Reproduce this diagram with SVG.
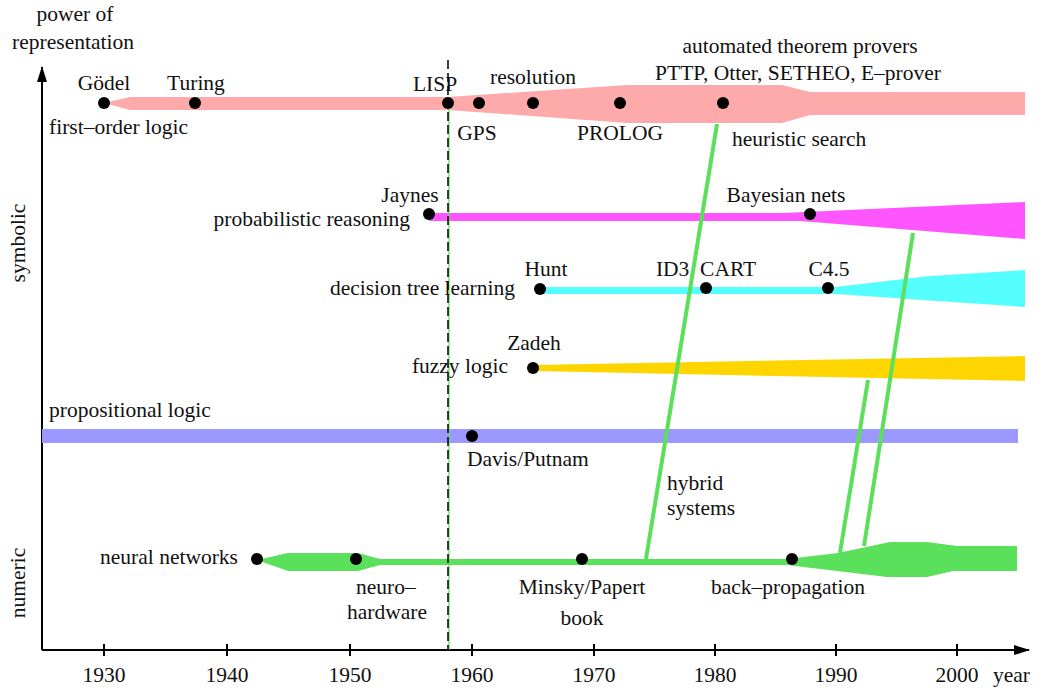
<svg xmlns="http://www.w3.org/2000/svg" width="1051" height="693" viewBox="0 0 1051 693" font-family="'Liberation Serif', 'DejaVu Serif', serif">
<style>
text{font-family:'Liberation Serif','DejaVu Serif',serif;font-size:21.5px;fill:#111}
.m{text-anchor:middle}.e{text-anchor:end}
.dot{fill:#000}
.hy{stroke:#5ae05a;stroke-width:4;fill:none}
.ax{stroke:#000;stroke-width:2;fill:none}
</style>
<defs>
<marker id="arr" markerWidth="16" markerHeight="10" refX="15" refY="5" orient="auto" markerUnits="userSpaceOnUse">
<path d="M0,0 L16,5 L0,10 Z" fill="#000"/>
</marker>
</defs>
<rect width="1051" height="693" fill="#fff"/>
<g id="axes">
<line class="ax" x1="42" y1="650" x2="42" y2="67" marker-end="url(#arr)"/>
<line class="ax" x1="42" y1="650" x2="1029" y2="650" marker-end="url(#arr)"/>
<g stroke="#000" stroke-width="2">
<line x1="104" y1="644" x2="104" y2="656"/><line x1="227" y1="644" x2="227" y2="656"/><line x1="350" y1="644" x2="350" y2="656"/><line x1="472" y1="644" x2="472" y2="656"/><line x1="594" y1="644" x2="594" y2="656"/><line x1="715" y1="644" x2="715" y2="656"/><line x1="836" y1="644" x2="836" y2="656"/><line x1="957" y1="644" x2="957" y2="656"/>
</g>
<text class="m" x="104" y="682">1930</text><text class="m" x="227" y="682">1940</text><text class="m" x="350" y="682">1950</text><text class="m" x="472" y="682">1960</text><text class="m" x="594" y="682">1970</text><text class="m" x="715" y="682">1980</text><text class="m" x="836" y="682">1990</text><text class="m" x="957" y="682">2000</text>
<text x="993" y="682">year</text>
<text class="m" x="75" y="21">power of</text>
<text class="m" x="73" y="49">representation</text>
<text class="m" transform="translate(25,243) rotate(-90)">symbolic</text>
<text class="m" transform="translate(25,583) rotate(-90)">numeric</text>
</g>
<g id="propositional-logic">
<rect x="42" y="429" width="976" height="14" fill="#9b99ff"/>
<circle class="dot" cx="472" cy="436" r="6"/>
<text x="49" y="417">propositional logic</text>
<text x="467" y="466">Davis/Putnam</text>
</g>
<g id="first-order-logic">
<polygon points="104,103 130,97 448,97 627,85 782,85 810,92 1025,92 1025,115 810,115 782,123 627,123 448,110 130,110" fill="#ffaaaa"/>
<text x="49" y="134">first–order logic</text>
<text class="m" x="104" y="90">Gödel</text>
<text class="m" x="196" y="90">Turing</text>
<text class="m" x="435" y="91">LISP</text>
<text class="m" x="477" y="140">GPS</text>
<text class="m" x="533" y="84">resolution</text>
<text class="m" x="620" y="140">PROLOG</text>
<text class="m" x="800" y="53">automated theorem provers</text>
<text class="m" x="798" y="80">PTTP, Otter, SETHEO, E–prover</text>
<text x="732" y="146">heuristic search</text>
</g>
<g id="probabilistic-reasoning">
<polygon points="429,213 783,213 1025,202 1025,239 800,221 429,221" fill="#ff55ff"/>
<text class="m" x="410" y="202">Jaynes</text>
<text class="e" x="410" y="226">probabilistic reasoning</text>
<text class="m" x="786" y="202">Bayesian nets</text>
</g>
<g id="decision-tree-learning">
<polygon points="540,287 835,287 930,276 1025,270 1025,307 835,294 540,294" fill="#55ffff"/>
<text class="m" x="546" y="276">Hunt</text>
<text class="e" x="515" y="295">decision tree learning</text>
<text class="m" x="706" y="276">ID3, CART</text>
<text class="m" x="829" y="276">C4.5</text>
</g>
<g id="fuzzy-logic">
<polygon points="533,365 1025,356 1025,381 533,371" fill="#ffd500"/>
<text class="m" x="534" y="350">Zadeh</text>
<text class="e" x="508" y="373">fuzzy logic</text>
</g>
<g id="neural-networks">
<polygon points="257,560 288,553 358,553 380,559 787,559 838,553 890,542 927,542 957,546 1017,546 1017,571 953,571 927,577 887,577 787,565 380,565 358,571 288,571" fill="#5ae05a"/>
<text class="e" x="238" y="564">neural networks</text>
<text x="356" y="594">neuro–</text>
<text class="m" x="387" y="619">hardware</text>
<text class="m" x="582" y="594">Minsky/Papert</text>
<text class="m" x="582" y="625">book</text>
<text class="m" x="788" y="594">back–propagation</text>
<text x="667" y="490">hybrid</text>
<text x="667" y="515">systems</text>
</g>
<g id="connectors">
<line class="hy" x1="646" y1="559" x2="717" y2="124"/>
<line class="hy" x1="840" y1="553" x2="868" y2="380"/>
<line class="hy" x1="864" y1="546" x2="913" y2="233"/>
<line x1="449" y1="105" x2="449" y2="650" stroke="#5ae05a" stroke-width="1.2"/>
<line x1="448" y1="60" x2="448" y2="650" stroke="#000" stroke-width="1.5" stroke-dasharray="9 4"/>
</g>
<g id="dots">
<circle class="dot" cx="104" cy="103" r="6"/>
<circle class="dot" cx="195" cy="103" r="6"/>
<circle class="dot" cx="448" cy="103" r="6"/>
<circle class="dot" cx="479" cy="103" r="6"/>
<circle class="dot" cx="533" cy="103" r="6"/>
<circle class="dot" cx="620" cy="103" r="6"/>
<circle class="dot" cx="723" cy="103" r="6"/>
<circle class="dot" cx="429" cy="214" r="6"/>
<circle class="dot" cx="810" cy="214" r="6"/>
<circle class="dot" cx="540" cy="289" r="6"/>
<circle class="dot" cx="706" cy="288" r="6"/>
<circle class="dot" cx="828" cy="288" r="6"/>
<circle class="dot" cx="533" cy="368" r="6"/>
<circle class="dot" cx="257" cy="559" r="6"/>
<circle class="dot" cx="356" cy="559" r="6"/>
<circle class="dot" cx="582" cy="559" r="6"/>
<circle class="dot" cx="792" cy="559" r="6"/>
</g>
</svg>
